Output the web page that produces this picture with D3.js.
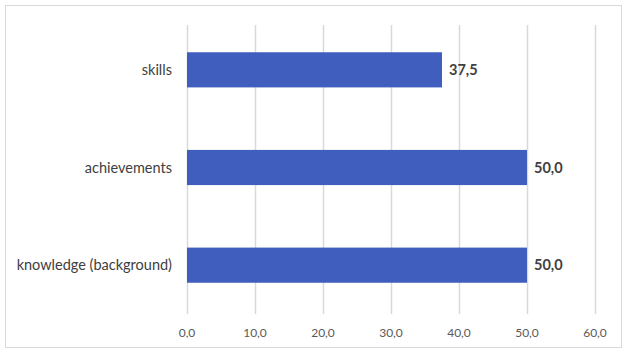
<!DOCTYPE html>
<html>
<head>
<meta charset="utf-8">
<script src="https://cdn.jsdelivr.net/npm/d3@7"></script>
<style>
  body { margin: 0; background: #fff; }
  svg { display: block; font-family: Lato, "Open Sans", sans-serif; }
</style>
</head>
<body>
<div id="chart"></div>
<script>
var categories = ["skills", "achievements", "knowledge (background)"];
var values = [37.5, 50.0, 50.0];
var ticks = [0, 10, 20, 30, 40, 50, 60];

var fmt = function(v) { return v.toFixed(1).replace(".", ","); };

var W = 628, H = 354;
var plotLeft = 187, plotRight = 595, plotTop = 21, plotBottom = 314;

var svg = d3.select("#chart").append("svg")
    .attr("width", W)
    .attr("height", H);

// outer frame
svg.append("rect")
    .attr("x", 5.5).attr("y", 5.5)
    .attr("width", 616).attr("height", 342)
    .attr("fill", "#fff")
    .attr("stroke", "#d9d9d9");

var x = d3.scaleLinear().domain([0, 60]).range([plotLeft, plotRight]);
var y = d3.scaleBand().domain(categories).range([plotTop, plotBottom])
    .paddingInner(0.64).paddingOuter(0.32);

// gridlines
svg.selectAll("line.grid")
    .data(ticks)
  .enter().append("line")
    .attr("class", "grid")
    .attr("x1", function(d) { return Math.round(x(d)) + 0.5; })
    .attr("x2", function(d) { return Math.round(x(d)) + 0.5; })
    .attr("y1", 25).attr("y2", plotBottom)
    .attr("stroke", "#d9d9d9")
    .attr("stroke-width", 1.5);

// tick labels
svg.selectAll("text.tick")
    .data(ticks)
  .enter().append("text")
    .attr("class", "tick")
    .attr("x", function(d) { return x(d); })
    .attr("y", 337)
    .attr("text-anchor", "middle")
    .attr("font-size", 12)
    .attr("fill", "#595959")
    .text(fmt);

var data = categories.map(function(c, i) { return {cat: c, val: values[i]}; });

svg.selectAll("rect.bar")
    .data(data)
  .enter().append("rect")
    .attr("class", "bar")
    .attr("x", x(0))
    .attr("y", function(d) { return y(d.cat); })
    .attr("width", function(d) { return x(d.val) - x(0); })
    .attr("height", y.bandwidth())
    .attr("fill", "#3f5ebe");

// category labels
svg.selectAll("text.cat")
    .data(data)
  .enter().append("text")
    .attr("class", "cat")
    .attr("x", 172)
    .attr("y", function(d) { return y(d.cat) + y.bandwidth() / 2; })
    .attr("dy", "0.35em")
    .attr("text-anchor", "end")
    .attr("font-size", 14.5)
    .attr("fill", "#404040")
    .text(function(d) { return d.cat; });

// value labels
svg.selectAll("text.val")
    .data(data)
  .enter().append("text")
    .attr("class", "val")
    .attr("x", function(d) { return x(d.val) + 7; })
    .attr("y", function(d) { return y(d.cat) + y.bandwidth() / 2; })
    .attr("dy", "0.35em")
    .attr("font-size", 14.5)
    .attr("font-weight", "bold")
    .attr("fill", "#404040")
    .text(function(d) { return fmt(d.val); });
</script>
</body>
</html>
